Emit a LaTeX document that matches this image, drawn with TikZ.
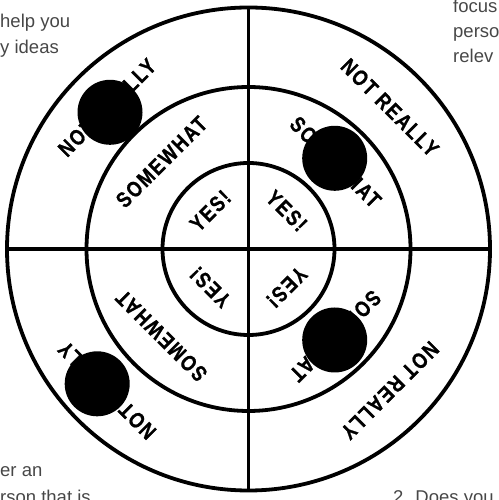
\documentclass[tikz,border=0pt]{standalone}
\usepackage{fontspec}
\setmainfont{Liberation Sans}
\newfontfamily\ringfont[FakeStretch=0.82,LetterSpace=8.0,BoldFeatures={FakeBold=0.8}]{Liberation Sans}
\definecolor{note}{HTML}{474747}
\begin{document}
\begin{tikzpicture}[x=1pt,y=1pt,
  ring/.style={line width=3.8pt,draw=black},
  lab/.style={font=\ringfont\bfseries\fontsize{22}{22}\selectfont,inner sep=0pt,anchor=center},
  notetext/.style={font=\fontsize{18.5}{18.5}\selectfont,text=note,inner sep=0pt,anchor=base west},
  dot/.style={fill=black}]
\useasboundingbox (0,0) rectangle (498,500);
\clip (0,0) rectangle (498,500);
\coordinate (c) at (248.5,251);
% rings and cross
\draw[ring] (c) circle[radius=241.5];
\draw[ring] (c) circle[radius=162];
\draw[ring] (c) circle[radius=86];
\coordinate (top) at ([shift={(0,241.5)}]c);
\coordinate (bot) at ([shift={(0,-241.5)}]c);
\coordinate (lft) at ([shift={(-241.5,0)}]c);
\coordinate (rgt) at ([shift={(241.5,0)}]c);
\draw[ring] (top) -- (bot);
\draw[ring] (lft) -- (rgt);
% labels: top-left
\node[lab,rotate=45] (tl3) at ([shift={(135:200)}]c) {NOT REALLY};
\node[lab,rotate=45] (tl2) at ([shift={(135:123)}]c) {SOMEWHAT};
\node[lab,rotate=45] (tl1) at ([shift={(135:54)}]c) {YES!};
% top-right
\node[lab,rotate=-45] (tr3) at ([shift={(45:200)}]c) {NOT REALLY};
\node[lab,rotate=-45] (tr2) at ([shift={(45:123)}]c) {SOMEWHAT};
\node[lab,rotate=-45] (tr1) at ([shift={(45:54)}]c) {YES!};
% bottom-left
\node[lab,rotate=135] (bl3) at ([shift={(225:200)}]c) {NOT REALLY};
\node[lab,rotate=135] (bl2) at ([shift={(225:123)}]c) {SOMEWHAT};
\node[lab,rotate=135] (bl1) at ([shift={(225:54)}]c) {YES!};
% bottom-right
\node[lab,rotate=225] (br3) at ([shift={(315:200)}]c) {NOT REALLY};
\node[lab,rotate=225] (br2) at ([shift={(315:123)}]c) {SOMEWHAT};
\node[lab,rotate=225] (br1) at ([shift={(315:54)}]c) {YES!};
% redaction dots
\fill[dot] (110,387.7) circle[radius=32.5];
\fill[dot] (334.7,341.7) circle[radius=32.5];
\fill[dot] (97.2,116.2) circle[radius=32.5];
\fill[dot] (334.7,160) circle[radius=32.5];
% cropped surrounding text
\node[notetext] (t1) at (0,472) {help you};
\node[notetext] (t2) at (0,446) {y ideas};
\node[notetext] (t3) at (453,487) {focus};
\node[notetext] (t4) at (453,462) {perso};
\node[notetext] (t5) at (453,437) {relev};
\node[notetext] (t6) at (0,23) {er an};
\node[notetext] (t7) at (0,-3) {rson that is};
\node[notetext] (t8) at (393,-3) {2. Does you};
\end{tikzpicture}
\end{document}
